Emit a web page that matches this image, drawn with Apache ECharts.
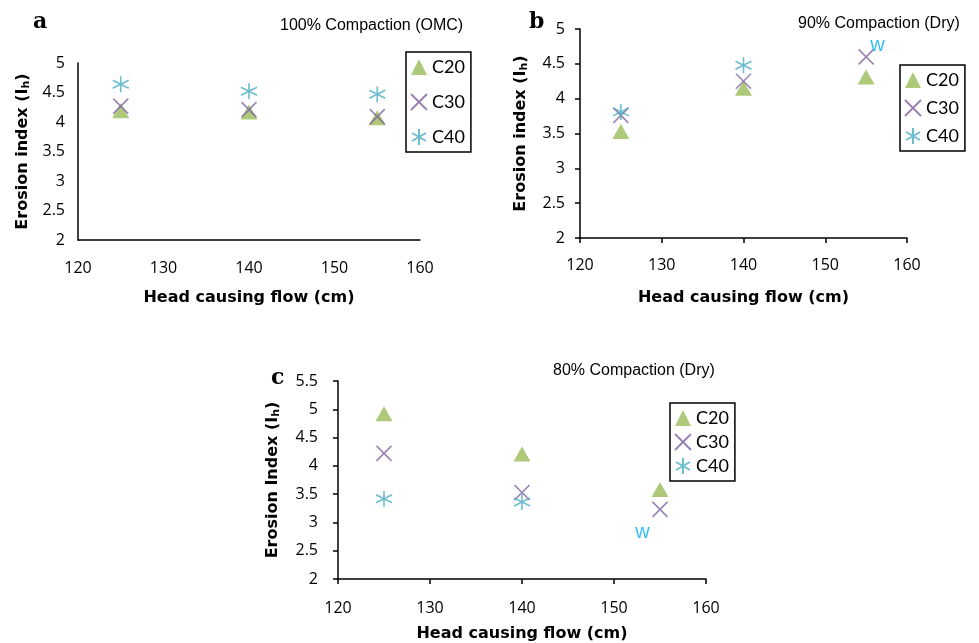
<!DOCTYPE html>
<html>
<head>
<meta charset="utf-8">
<script src="https://cdn.jsdelivr.net/npm/echarts@6/dist/echarts.min.js"></script>
<style>
  html, body { margin: 0; padding: 0; background: #fff; }
  #chart { width: 979px; height: 643px; }
</style>
</head>
<body>
<div id="chart"></div>
<script>
// x positions (head causing flow, cm)
var heads = [125, 140, 155]

// (a) 100% compaction (OMC)
var aC20 = [4.19, 4.17, 4.07]
var aC30 = [4.27, 4.21, 4.09]
var aC40 = [4.64, 4.52, 4.47]

// (b) 90% compaction (Dry)
var bC20 = [3.53, 4.15, 4.31]
var bC30 = [3.76, 4.25, 4.6]
var bC40 = [3.81, 4.48]
var bStray = [[156.4, 4.76]] // cyan "w" glyph

// (c) 80% compaction (Dry)
var cC20 = [4.92, 4.21, 3.58]
var cC30 = [4.22, 3.53, 3.23]
var cC40 = [3.42, 3.36]
var cStray = [[153.1, 2.83]]

var names = ['C20', 'C30', 'C40']
var colors = ['#9bbb59', '#8064a2', '#4bacc6']

var chart = echarts.init(document.getElementById('chart'))

// marker shapes
var symTri = 'triangle'
var symX = 'path://M0,0L10,10M10,0L0,10'
var symStar = 'path://M5,0L5,10M0.67,2.5L9.33,7.5M0.67,7.5L9.33,2.5'

function pts(ys) {
  return ys.map(function (y, i) {
    return [heads[i], y]
  })
}

function makeSeries(idx, c20, c30, c40) {
  return [
    {
      name: 'C20', type: 'scatter', xAxisIndex: idx, yAxisIndex: idx,
      symbol: symTri, symbolSize: [17, 15],
      itemStyle: { color: colors[0] },
      data: pts(c20),
    },
    {
      name: 'C30', type: 'scatter', xAxisIndex: idx, yAxisIndex: idx,
      symbol: symX, symbolSize: 15,
      itemStyle: { color: 'transparent', borderColor: colors[1], borderWidth: 1.6 },
      data: pts(c30),
    },
    {
      name: 'C40', type: 'scatter', xAxisIndex: idx, yAxisIndex: idx,
      symbol: symStar, symbolSize: 16,
      itemStyle: { color: 'transparent', borderColor: colors[2], borderWidth: 1.6 },
      data: pts(c40),
    },
  ]
}

function strayW(idx, data) {
  return {
    name: 'w', type: 'scatter', xAxisIndex: idx, yAxisIndex: idx,
    symbolSize: 0, silent: true,
    label: {
      show: true, position: 'inside', formatter: 'w',
      color: '#00b0f0', fontSize: 20, fontFamily: 'Liberation Sans',
    },
    data: data,
  }
}

var tickFont = { color: '#000', fontSize: 16, fontFamily: 'Open Sans' }
var nameFont = { color: '#000', fontSize: 16, fontWeight: 'bold', fontFamily: 'DejaVu Sans' }

function xAx(idx, ticks, margin, gap) {
  return {
    type: 'value', gridIndex: idx, min: 120, max: 160, interval: 10,
    name: 'Head causing flow (cm)', nameLocation: 'middle', nameGap: gap,
    nameTextStyle: nameFont,
    axisLine: { lineStyle: { color: '#000', width: 1.5 } },
    axisTick: { show: ticks, length: 5, lineStyle: { color: '#000', width: 1.5 } },
    axisLabel: Object.assign({ margin: margin }, tickFont),
    splitLine: { show: false },
  }
}

function yAx(idx, max, label, ticks, gap, margin) {
  return {
    type: 'value', gridIndex: idx, min: 2, max: max, interval: 0.5,
    name: '{n|' + label + ' (I}{s|h}{n|)}', nameLocation: 'middle', nameGap: gap,
    nameTextStyle: {
      rich: {
        n: nameFont,
        s: { color: '#000', fontSize: 11, fontWeight: 'bold', fontFamily: 'DejaVu Sans', padding: [7, 0, 0, 0] },
      },
    },
    axisLine: { show: true, lineStyle: { color: '#000', width: 1.5 } },
    axisTick: { show: ticks, length: 5, lineStyle: { color: '#000', width: 1.5 } },
    axisLabel: Object.assign({ margin: margin }, tickFont),
    splitLine: { show: false },
  }
}

function legendAt(left, top, gap) {
  return {
    orient: 'vertical', left: left, top: top,
    data: names, itemGap: gap, itemWidth: 16, itemHeight: 16,
    borderColor: '#000', borderWidth: 1.5, padding: [6, 6, 6, 4],
    textStyle: { color: '#000', fontSize: 18, fontFamily: 'Lato' },
    selectedMode: false,
  }
}

var titleFont = { color: '#000', fontSize: 16, fontWeight: 'normal', fontFamily: 'Liberation Sans' }
var letterFont = { color: '#000', fontSize: 22, fontWeight: 'bold', fontFamily: 'DejaVu Serif' }

var option = {
  animation: false,
  backgroundColor: '#fff',
  title: [
    { text: '100% Compaction (OMC)', left: 275, top: 13, textStyle: titleFont },
    { text: '90% Compaction (Dry)', left: 793, top: 11, textStyle: titleFont },
    { text: '80% Compaction (Dry)', left: 548, top: 358, textStyle: titleFont },
    { text: 'a', left: 28, top: 6, textStyle: letterFont },
    { text: 'b', left: 524, top: 6, textStyle: letterFont },
    { text: 'c', left: 266, top: 362, textStyle: letterFont },
  ],
  legend: [
    legendAt(406, 52, 17),
    legendAt(900, 65, 10),
    legendAt(670, 403, 6),
  ],
  grid: [
    { left: 78, top: 63, width: 342, height: 177, outerBoundsMode: 'none', containLabel: false },
    { left: 580, top: 29, width: 327, height: 209, outerBoundsMode: 'none', containLabel: false },
    { left: 338, top: 381, width: 368, height: 198, outerBoundsMode: 'none', containLabel: false },
  ],
  xAxis: [xAx(0, false, 20, 50), xAx(1, true, 19, 52), xAx(2, true, 21, 47)],
  yAxis: [
    yAx(0, 5, 'Erosion index', false, 46, 13),
    yAx(1, 5, 'Erosion index', true, 50, 15),
    yAx(2, 5.5, 'Erosion Index', true, 56, 20),
  ],
  series: [].concat(
    makeSeries(0, aC20, aC30, aC40),
    makeSeries(1, bC20, bC30, bC40),
    makeSeries(2, cC20, cC30, cC40),
    [strayW(1, bStray), strayW(2, cStray)]
  ),
}

chart.setOption(option)
</script>
</body>
</html>
